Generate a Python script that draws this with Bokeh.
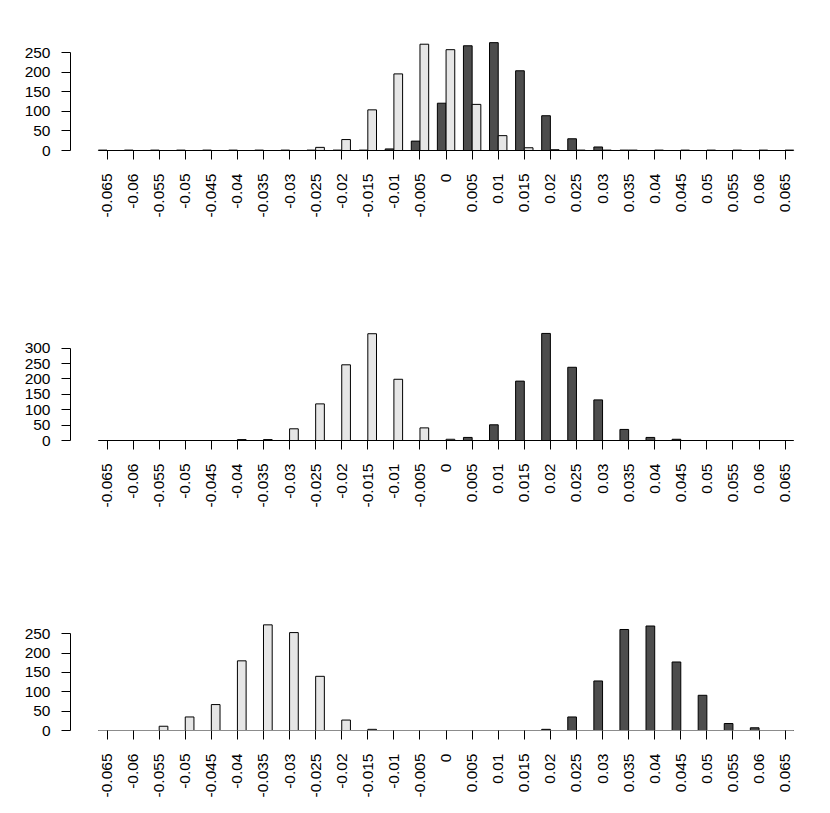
import math
from bokeh.plotting import figure
from bokeh.models import FixedTicker, Range1d
from bokeh.layouts import column
from bokeh.embed import file_html
from bokeh.resources import INLINE

# ---- data ----
categories = ["-0.065", "-0.06", "-0.055", "-0.05", "-0.045", "-0.04", "-0.035",
              "-0.03", "-0.025", "-0.02", "-0.015", "-0.01", "-0.005", "0",
              "0.005", "0.01", "0.015", "0.02", "0.025", "0.03", "0.035", "0.04",
              "0.045", "0.05", "0.055", "0.06", "0.065"]

dark1 = [1, 1, 1, 1, 1, 1, 1, 1, 1, 1, 1, 4, 24, 121, 268, 276, 204, 89, 30, 9, 1, 0, 0, 0, 0, 0, 0]
light1 = [0, 0, 0, 0, 0, 0, 0, 0, 8, 28, 104, 196, 272, 258, 118, 38, 7, 2, 1, 1, 1, 1, 1, 1, 1, 1, 1]

dark2 = [0, 0, 0, 0, 0, 0, 0, 0, 0, 0, 0, 0, 0, 0, 10, 51, 193, 348, 238, 132, 36, 10, 4, 0, 0, 0, 0]
light2 = [0, 0, 0, 0, 0, 3, 3, 38, 119, 246, 347, 199, 41, 4, 0, 0, 0, 0, 0, 0, 0, 0, 0, 0, 0, 0, 0]

dark3 = [0, 0, 0, 0, 0, 0, 0, 0, 0, 0, 0, 0, 0, 0, 0, 0, 0, 3, 35, 128, 261, 270, 177, 91, 18, 7, 0]
light3 = [0, 0, 11, 35, 67, 180, 273, 253, 140, 27, 3, 0, 0, 0, 0, 0, 0, 0, 0, 0, 0, 0, 0, 0, 0, 0, 0]

yticks1 = [0, 50, 100, 150, 200, 250]
yticks2 = [0, 50, 100, 150, 200, 250, 300]
yticks3 = [0, 50, 100, 150, 200, 250]

DARK = "#4D4D4D"
LIGHT = "#E6E6E6"
FONT = "Liberation Sans"
FSIZE = "15.5px"


def panel(dark, light, y_end, yticks, top_border, bottom_border, base_color):
    n = len(categories)
    centers = [3 * k + 2 for k in range(n)]
    x_dark = [c - 0.5 for c in centers]
    x_light = [c + 0.5 for c in centers]
    p = figure(frame_width=732, frame_height=112,
               x_range=Range1d(-2.2, 82.0), y_range=Range1d(0, y_end),
               output_backend="svg", toolbar_location=None,
               min_border_left=70, min_border_right=10,
               min_border_top=top_border, min_border_bottom=bottom_border)
    p.outline_line_color = None
    p.grid.visible = False
    p.background_fill_color = "white"
    p.border_fill_color = "white"

    p.vbar(x=x_dark, top=dark, bottom=0, width=1, fill_color=DARK,
           line_color="black", line_width=1)
    p.vbar(x=x_light, top=light, bottom=0, width=1, fill_color=LIGHT,
           line_color="black", line_width=1)

    # x axis
    xa = p.xaxis[0]
    xa.ticker = FixedTicker(ticks=centers)
    xa.major_label_overrides = {c: lab for c, lab in zip(centers, categories)}
    xa.major_label_orientation = math.pi / 2
    xa.bounds = (1, 3 * n)
    xa.axis_line_color = base_color
    xa.axis_line_width = 1
    xa.major_tick_line_color = "black"
    xa.major_tick_out = 9
    xa.major_tick_in = 0
    xa.minor_tick_line_color = None
    xa.major_label_standoff = 14
    xa.major_label_text_font = FONT
    xa.major_label_text_font_size = FSIZE
    xa.major_label_text_color = "black"

    # y axis
    ya = p.yaxis[0]
    ya.ticker = FixedTicker(ticks=yticks)
    ya.bounds = (yticks[0], yticks[-1])
    ya.axis_line_color = "black"
    ya.major_tick_out = 9
    ya.major_tick_in = 0
    ya.minor_tick_line_color = None
    ya.major_label_standoff = 11
    ya.major_label_text_font = FONT
    ya.major_label_text_font_size = FSIZE
    ya.major_label_text_color = "black"
    return p


p1 = panel(dark1, light1, 286.6, yticks1, 38, 148, "black")
p2 = panel(dark2, light2, 364.0, yticks2, 30, 148, "black")
p3 = panel(dark3, light3, 289.4, yticks3, 30, 75, "#8C8C8C")

layout = column(p1, p2, p3, spacing=0)
open("out.html", "w").write(file_html(layout, INLINE))
